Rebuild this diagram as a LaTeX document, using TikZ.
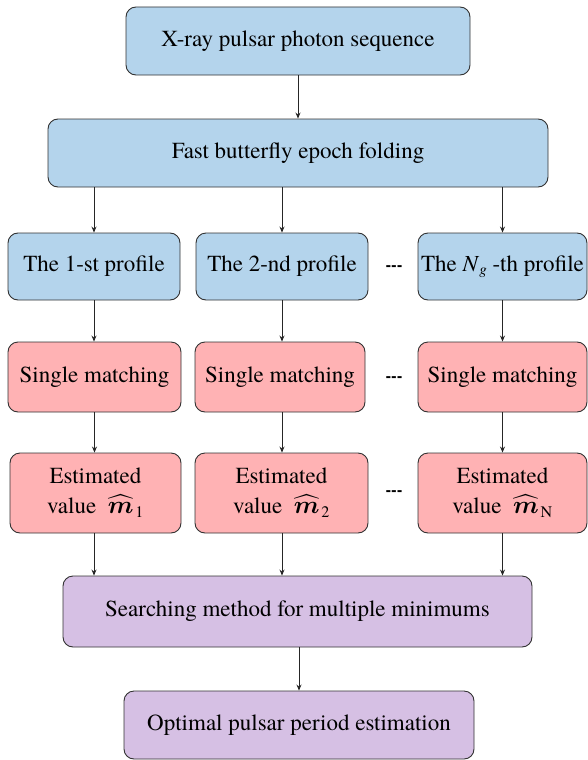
\documentclass[tikz,border=0pt]{standalone}
\usepackage{amsmath}
\usepackage{bm}
\usepackage{fontspec}
\setmainfont{texgyretermes}[Extension=.otf,
  UprightFont=*-regular, BoldFont=*-bold,
  ItalicFont=*-italic, BoldItalicFont=*-bolditalic]
\usetikzlibrary{arrows.meta}
\definecolor{boxblue}{RGB}{180,212,236}
\definecolor{boxpink}{RGB}{255,178,180}
\definecolor{boxpurple}{RGB}{214,192,228}
\definecolor{edgegray}{RGB}{50,50,50}
\newcommand{\mhat}[1]{$\widehat{\bm{m}}_{\mkern2mu\mathrm{#1}}$}
\newcommand{\Ng}{\textit{N}\raisebox{-0.3ex}{\fontsize{15}{15}\selectfont\textit{g}}}
\begin{document}
\begin{tikzpicture}[x=1pt,y=-1pt,
  flowbox/.style={draw=edgegray,line width=0.9pt,rounded corners=10pt,
    inner sep=0pt,align=center,font=\fontsize{23}{30}\selectfont},
  bluebox/.style={flowbox,fill=boxblue},
  pinkbox/.style={flowbox,fill=boxpink},
  purplebox/.style={flowbox,fill=boxpurple},
  arrowline/.style={draw=black!85,line width=0.8pt,-{Stealth[length=6pt,width=5pt]}},
  ellipsis/.style={font=\bfseries\fontsize{17}{18}\selectfont}]
\useasboundingbox (0,0) rectangle (588,760);

% input and folding
\node[bluebox,minimum width=344pt,minimum height=68pt] (seq) at (298,41) {X-ray pulsar photon sequence};
\node[bluebox,minimum width=500pt,minimum height=68pt] (fold) at (298,153) {Fast butterfly epoch folding};

% profiles
\node[bluebox,minimum width=172pt,minimum height=67pt] (p1) at (94,266.5) {The 1-st profile};
\node[bluebox,minimum width=172pt,minimum height=67pt] (p2) at (282,266.5) {The 2-nd profile};
\node[bluebox,minimum width=169pt,minimum height=67pt] (p3) at (502.5,266.5) {The \Ng\ -th profile};

% matching
\node[pinkbox,minimum width=173pt,minimum height=70pt] (s1) at (94.5,377) {Single matching};
\node[pinkbox,minimum width=170pt,minimum height=70pt] (s2) at (280,377) {Single matching};
\node[pinkbox,minimum width=169pt,minimum height=70pt] (s3) at (502.5,377) {Single matching};

% estimates
\node[pinkbox,minimum width=171pt,minimum height=80pt] (e1) at (95.5,493) {Estimated\\value~~\mhat{1}};
\node[pinkbox,minimum width=173pt,minimum height=80pt] (e2) at (281.5,493) {Estimated\\value~~\mhat{2}};
\node[pinkbox,minimum width=169pt,minimum height=80pt] (e3) at (502.5,493) {Estimated\\value~~\mhat{N}};

% ellipses between columns
\node[ellipsis] (d1) at (394,268) {-{}-{}-};
\node[ellipsis] (d2) at (394,379) {-{}-{}-};
\node[ellipsis] (d3) at (394,493) {-{}-{}-};

% search and result
\node[purplebox,minimum width=469pt,minimum height=71pt] (search) at (297.5,611.5) {Searching method for multiple minimums};
\node[purplebox,minimum width=350pt,minimum height=68pt] (opt) at (299,725) {Optimal pulsar period estimation};

% connectors
\draw[arrowline] (seq.south) -- (fold.north);
\draw[arrowline] (fold.south -| p1.north) -- (p1.north);
\draw[arrowline] (fold.south -| p2.north) -- (p2.north);
\draw[arrowline] (fold.south -| p3.north) -- (p3.north);
\draw[arrowline] (p1.south) -- (s1.north -| p1.south);
\draw[arrowline] (p2.south) -- (s2.north -| p2.south);
\draw[arrowline] (p3.south) -- (s3.north -| p3.south);
\draw[arrowline] (s1.south) -- (e1.north -| s1.south);
\draw[arrowline] (s2.south -| p2.south) -- (e2.north -| p2.south);
\draw[arrowline] (s3.south) -- (e3.north -| s3.south);
\draw[arrowline] (e1.south -| p1.south) -- (search.north -| p1.south);
\draw[arrowline] (e2.south -| p2.south) -- (search.north -| p2.south);
\draw[arrowline] (e3.south -| p3.south) -- (search.north -| p3.south);
\draw[arrowline] (search.south -| opt.north) -- (opt.north);
\end{tikzpicture}
\end{document}
